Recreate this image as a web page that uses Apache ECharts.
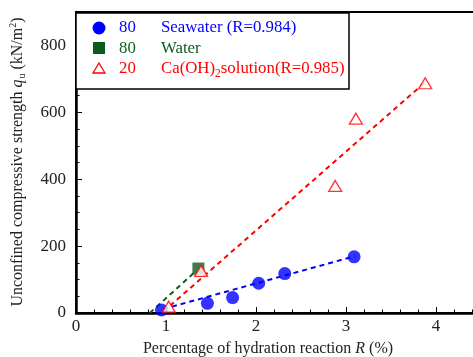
<!DOCTYPE html>
<html>
<head>
<meta charset="utf-8">
<script src="https://cdn.jsdelivr.net/npm/echarts@6/dist/echarts.min.js"></script>
<style>
  html, body { margin: 0; padding: 0; background: #fff; }
  #chart { width: 473px; height: 357px; }
</style>
</head>
<body>
<div id="chart"></div>
<script>
const seawaterR = [0.95, 1.46, 1.74, 2.03, 2.32, 3.09];
const seawaterQu = [9, 29, 46, 89, 118, 168];
const waterR = [1.36];
const waterQu = [133];
const caohR = [1.03, 1.39, 2.88, 3.11, 3.88];
const caohQu = [19, 126, 380, 581, 687];

// fitted line end points
const seawaterFitR = [0.97, 3.1];
const seawaterFitQu = [12, 170];
const waterFitR = [0.82, 1.33];
const waterFitQu = [0, 125];
const caohFitR = [0.97, 3.88];
const caohFitQu = [4, 690];

const xTicks = [0, 1, 2, 3, 4];
const yTicks = [0, 200, 400, 600, 800];

const legendNums = ['80', '80', '20'];
const legendNames = ['Seawater (R=0.984)', 'Water', 'Ca(OH){sub|2}solution(R=0.985)'];
const colors = ['#0000ff', '#0b5d1e', '#ff0000'];

const FONT = '"Liberation Serif", "Times New Roman", serif';
const pairs = (xs, ys) => xs.map((x, i) => [x, ys[i]]);

const chart = echarts.init(document.getElementById('chart'));

const legendGraphics = [
  {
    type: 'rect', z: 100,
    shape: { x: 76, y: 13, width: 273, height: 76 },
    style: { fill: '#fff', stroke: '#000', lineWidth: 1.5 }
  },
  { type: 'circle', z: 101, shape: { cx: 99, cy: 28, r: 6.5 }, style: { fill: colors[0] } },
  { type: 'rect', z: 101, shape: { x: 93, y: 42, width: 12, height: 12 }, style: { fill: colors[1] } },
  {
    type: 'polygon', z: 101,
    shape: { points: [[99, 63], [105, 73], [93, 73]] },
    style: { fill: '#fff', stroke: colors[2], lineWidth: 1.3 }
  }
];
legendNums.forEach((n, i) => {
  const y = 28 + i * 20.5;
  legendGraphics.push({
    type: 'text', z: 101, x: 119, y: y,
    style: { text: n, fill: colors[i], font: '16.8px ' + FONT, verticalAlign: 'middle' }
  });
  legendGraphics.push({
    type: 'text', z: 101, x: 161, y: y,
    style: {
      text: legendNames[i], fill: colors[i], font: '16.8px ' + FONT, verticalAlign: 'middle',
      rich: { sub: { fontSize: 11.5, fontFamily: FONT, fill: colors[i], padding: [9, 0, 0, 0] } }
    }
  });
});

const option = {
  animation: false,
  grid: {
    left: 76, top: 12, width: 450, height: 301,
    outerBoundsMode: 'none',
    show: true, borderColor: '#000', borderWidth: 2
  },
  xAxis: {
    type: 'value', min: 0, max: 5, interval: 1,
    axisLine: { lineStyle: { color: '#000', width: 2.5 } },
    axisTick: { inside: true, length: 6, lineStyle: { color: '#000', width: 1 } },
    minorTick: { show: true, splitNumber: 5, length: 3.5, lineStyle: { color: '#000', width: 1 } },
    splitLine: { show: false },
    axisLabel: {
      color: '#222', fontFamily: FONT, fontSize: 17, margin: 5,
      formatter: v => xTicks.includes(v) ? String(v) : ''
    }
  },
  yAxis: {
    type: 'value', min: 0, max: 900, interval: 200,
    axisLine: { lineStyle: { color: '#000', width: 2.5 } },
    axisTick: { inside: true, length: 6, lineStyle: { color: '#000', width: 1 } },
    minorTick: { show: true, splitNumber: 4, length: 3.5, lineStyle: { color: '#000', width: 1 } },
    splitLine: { show: false },
    axisLabel: {
      color: '#222', fontFamily: FONT, fontSize: 17, margin: 10,
      formatter: v => yTicks.includes(v) ? String(v) : ''
    }
  },
  graphic: [
    ...legendGraphics,
    {
      type: 'text', x: 18, y: 162, rotation: Math.PI / 2,
      style: {
        text: 'Unconfined compressive strength {it|q}{sub|u} (kN/m{sup|2})',
        fill: '#222', font: '16px ' + FONT, align: 'center', verticalAlign: 'middle',
        rich: {
          it: { fontStyle: 'italic', fontSize: 16, fontFamily: FONT, fill: '#222' },
          sub: { fontSize: 10, fontFamily: FONT, fill: '#222', padding: [9, 0, 0, 1] },
          sup: { fontSize: 10, fontFamily: FONT, fill: '#222', padding: [0, 0, 9, 0] }
        }
      }
    },
    {
      type: 'text', x: 268, y: 349,
      style: {
        text: 'Percentage of hydration reaction {it|R} (%)',
        fill: '#222', font: '16px ' + FONT, align: 'center', verticalAlign: 'middle',
        rich: { it: { fontStyle: 'italic', fontSize: 16, fontFamily: FONT, fill: '#222' } }
      }
    }
  ],
  series: [
    {
      type: 'line', data: pairs(waterFitR, waterFitQu), symbol: 'none', z: 2,
      lineStyle: { color: colors[1], width: 2, type: [5, 4] }
    },
    {
      type: 'line', data: pairs(caohFitR, caohFitQu), symbol: 'none', z: 2,
      lineStyle: { color: colors[2], width: 2, type: [5, 4] }
    },
    {
      type: 'line', data: pairs(seawaterFitR, seawaterFitQu), symbol: 'none', z: 2,
      lineStyle: { color: colors[0], width: 2, type: [5, 4] }
    },
    {
      type: 'scatter', data: pairs(seawaterR, seawaterQu), symbol: 'circle', symbolSize: 13, z: 3,
      itemStyle: { color: colors[0] }
    },
    {
      type: 'scatter', data: pairs(waterR, waterQu), symbol: 'rect', symbolSize: 12, z: 3,
      itemStyle: { color: colors[1] }
    },
    {
      type: 'scatter', data: pairs(caohR, caohQu), symbol: 'triangle', symbolSize: [13, 11], z: 4,
      itemStyle: { color: '#fff', borderColor: colors[2], borderWidth: 1.3 }
    }
  ]
};

chart.setOption(option);
</script>
</body>
</html>
